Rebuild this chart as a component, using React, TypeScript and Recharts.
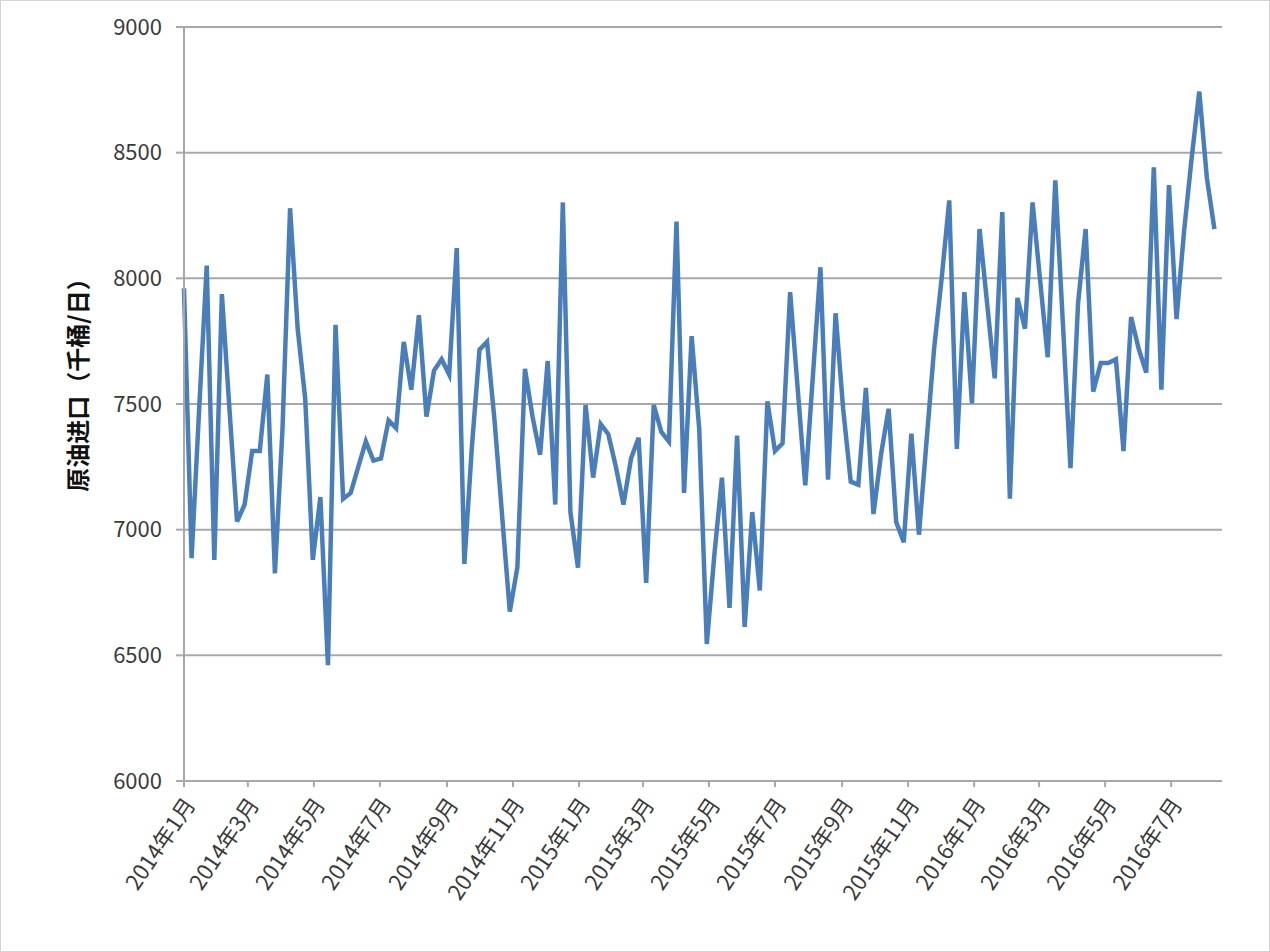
import React from "react";
import {
  LineChart,
  Line,
  XAxis,
  YAxis,
  CartesianGrid,
  Label,
} from "recharts";

// weekly crude imports, thousand barrels/day
const imports2014 = [
  7960, 6887, 7480, 8051, 6880, 7937, 7480, 7032, 7100, 7313, 7313, 7617,
  6826, 7400, 8279, 7800, 7520, 6880, 7130, 6461, 7815, 7123, 7146, 7250,
  7351, 7275, 7283, 7435, 7404, 7747, 7557, 7853, 7450, 7633, 7678, 7617,
  8120, 6864, 7330, 7716, 7747, 7430, 7050, 6674, 6850, 7640, 7450, 7298,
  7671, 7100, 8302, 7070, 6849,
];
const imports2015 = [
  7496, 7207, 7420, 7380, 7250, 7100, 7283, 7366, 6788, 7496, 7389, 7351,
  8226, 7146, 7770, 7400, 6545, 6900, 7207, 6689, 7374, 6613, 7070, 6758,
  7511, 7313, 7344, 7945, 7560, 7176, 7610, 8044, 7199, 7861, 7480, 7191,
  7179, 7564, 7062, 7300, 7481, 7030, 6950, 7382, 6980, 7350, 7720, 8000,
  8310, 7321, 7945, 7503,
];
const imports2016 = [
  8196, 7900, 7602, 8264, 7123, 7922, 7800, 8302, 7990, 7686, 8390, 7820,
  7245, 7900, 8196, 7549, 7663, 7663, 7678, 7313, 7846, 7720, 7625, 8442,
  7557, 8371, 7838, 8190, 8480, 8743, 8400, 8196,
];

const tickMonths = [
  "2014-01", "2014-03", "2014-05", "2014-07", "2014-09", "2014-11",
  "2015-01", "2015-03", "2015-05", "2015-07", "2015-09", "2015-11",
  "2016-01", "2016-03", "2016-05", "2016-07",
];
const yTicks = [6000, 6500, 7000, 7500, 8000, 8500, 9000];

const DAY = 86400000;
const start = Date.UTC(2014, 0, 1);
const allImports = [...imports2014, ...imports2015, ...imports2016];
const data = allImports.map((v, i) => ({ day: i * 7, value: v }));

const monthDay = (m: string) => {
  const [y, mo] = m.split("-").map(Number);
  return (Date.UTC(y, mo - 1, 1) - start) / DAY;
};
const xTicks = tickMonths.map(monthDay);
const labelFor: Record<number, string> = {};
tickMonths.forEach((m) => {
  const [y, mo] = m.split("-").map(Number);
  labelFor[monthDay(m)] = `${y}年${mo}月`;
});

const font = '"Noto Sans CJK SC", "Noto Sans", sans-serif';

function MonthTick(props: any) {
  const { x, y, payload } = props;
  return (
    <g transform={`translate(${x + 4},${y + 10})`}>
      <text
        x={0}
        y={0}
        textAnchor="end"
        dominantBaseline="central"
        transform="rotate(-56)"
        fontSize={22}
        fontFamily={font}
        fill="#3a3a3a"
      >
        {labelFor[payload.value]}
      </text>
    </g>
  );
}

export default function App() {
  return (
    <div
      style={{
        position: "absolute",
        left: 0,
        top: 0,
        width: 1270,
        height: 952,
        background: "#fff",
        border: "1px solid #d4d4d4",
        boxSizing: "border-box",
      }}
    >
      <LineChart
        width={1268}
        height={950}
        data={data}
        margin={{ top: 26, right: 47, bottom: 0, left: 0 }}
      >
        <CartesianGrid
          horizontal
          vertical={false}
          stroke="#a8a8a8"
          strokeWidth={2}
        />
        <XAxis
          type="number"
          dataKey="day"
          domain={[0, 959]}
          ticks={xTicks}
          interval={0}
          height={170}
          tickSize={6}
          tickMargin={2}
          axisLine={{ stroke: "#a8a8a8", strokeWidth: 2 }}
          tickLine={{ stroke: "#a8a8a8", strokeWidth: 2 }}
          tick={<MonthTick />}
        />
        <YAxis
          type="number"
          domain={[6000, 9000]}
          ticks={yTicks}
          interval={0}
          width={183}
          tickSize={8}
          tickMargin={14}
          axisLine={{ stroke: "#a8a8a8", strokeWidth: 2 }}
          tickLine={{ stroke: "#a8a8a8", strokeWidth: 2 }}
          tick={{ fontSize: 22, fontFamily: font, fill: "#3a3a3a" }}
        >
          <Label
            content={() => (
              <text
                x={75}
                y={378}
                transform="rotate(-90 75 378)"
                textAnchor="middle"
                dominantBaseline="central"
                fontSize={24}
                fontWeight="bold"
                fontFamily={font}
                fill="#111"
              >
                原油进口（千桶/日）
              </text>
            )}
          />
        </YAxis>
        <Line
          type="linear"
          dataKey="value"
          stroke="#4a7ebb"
          strokeWidth={4.5}
          dot={false}
          isAnimationActive={false}
        />
      </LineChart>
    </div>
  );
}
